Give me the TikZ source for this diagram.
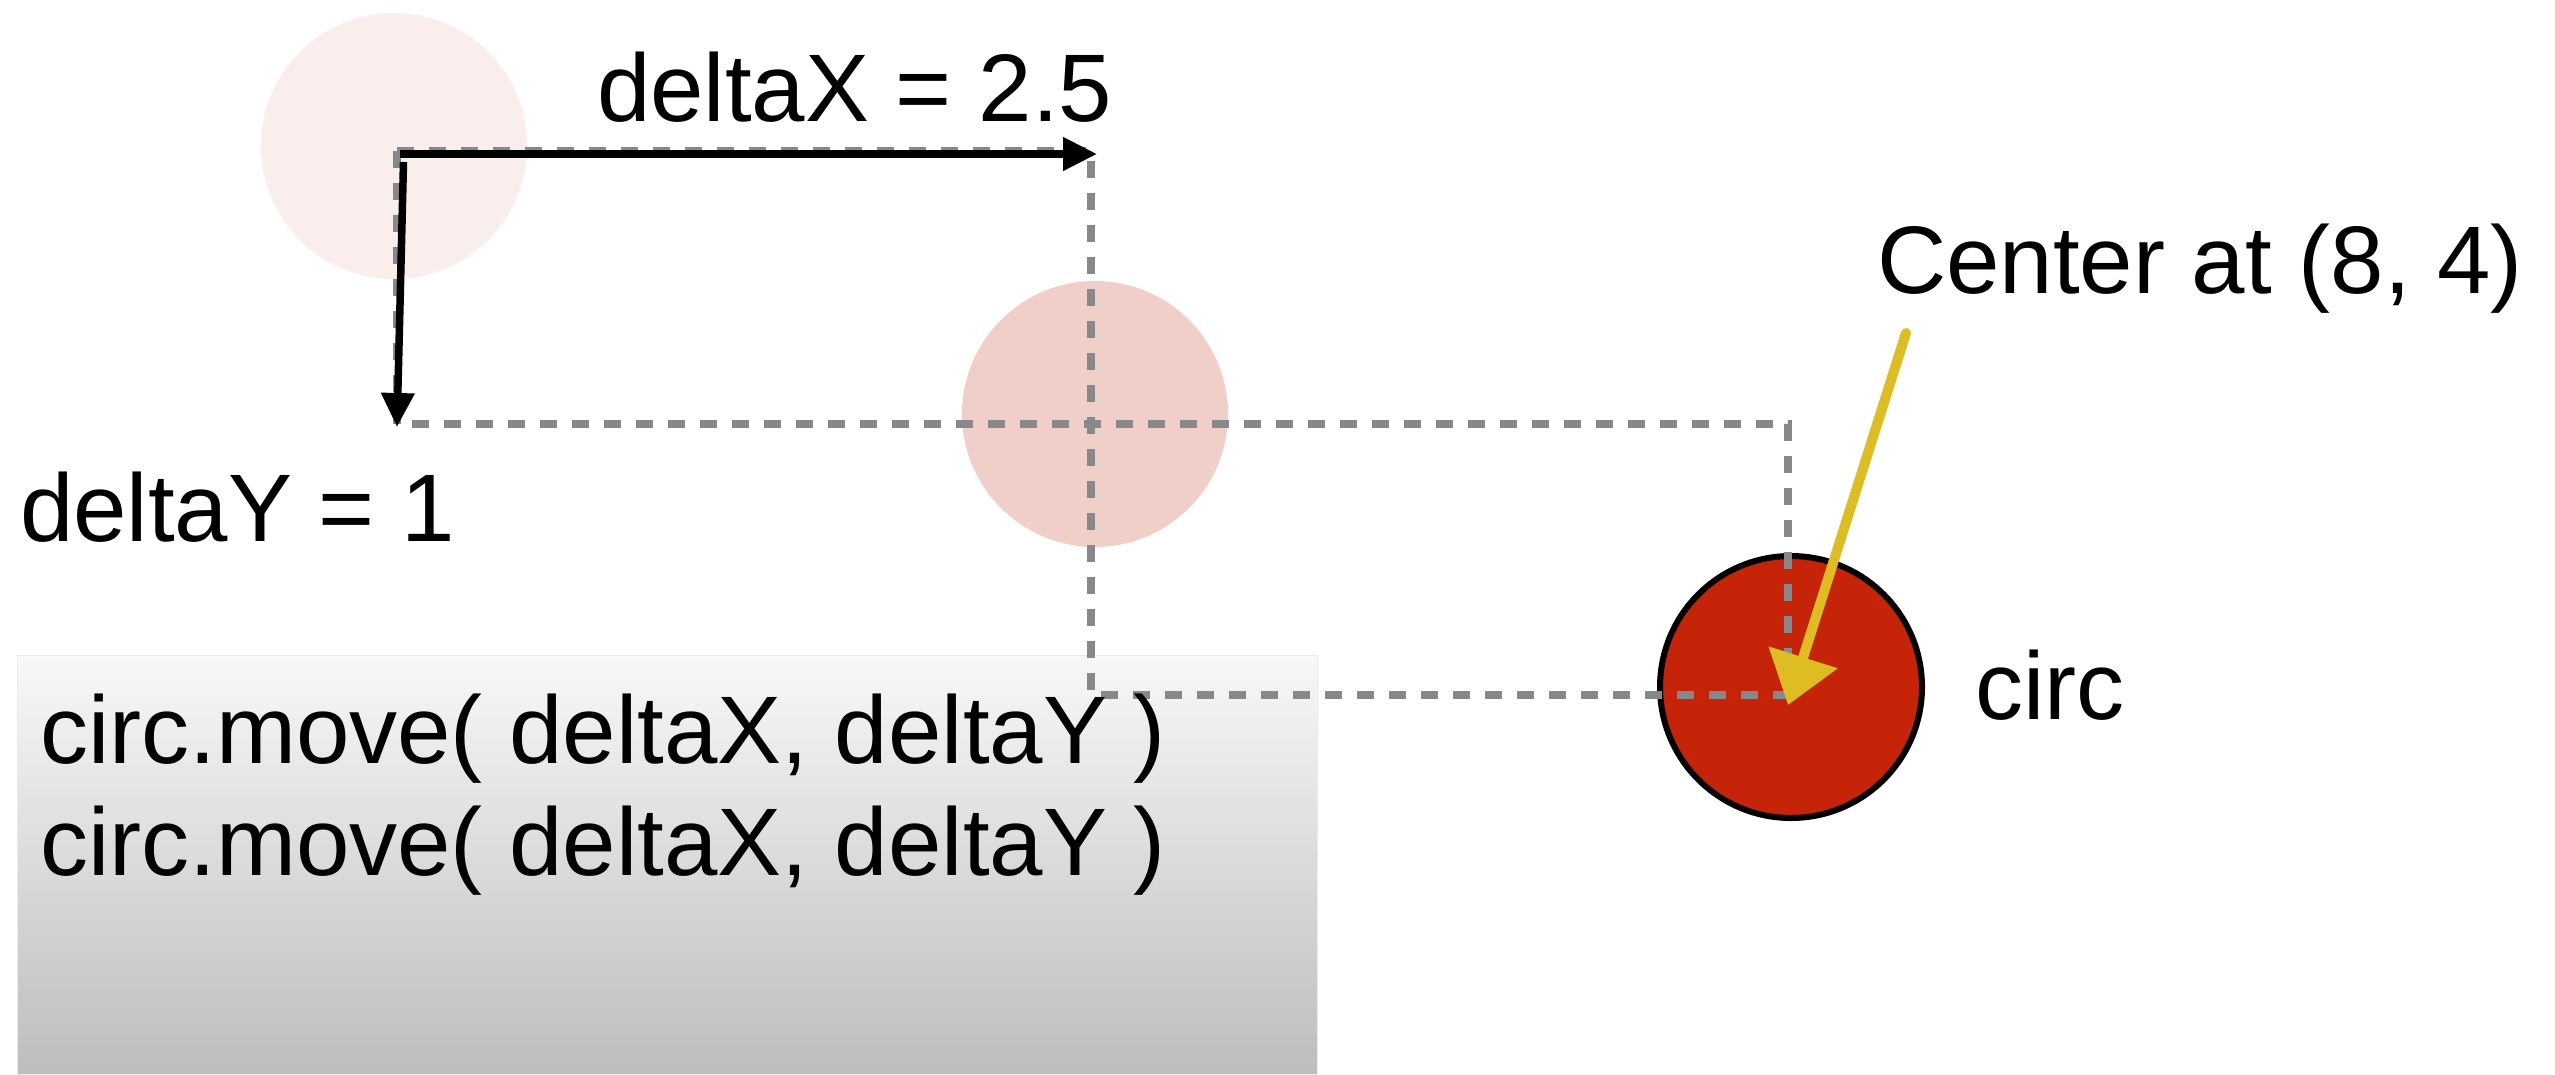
\documentclass[tikz,border=0pt]{standalone}
\usepackage{fontspec}
\setmainfont{Liberation Sans}
\usetikzlibrary{arrows.meta,decorations.pathmorphing}
\definecolor{faintc}{HTML}{F9EEEB}
\definecolor{midc}{HTML}{EFCFC8}
\definecolor{redc}{HTML}{C52408}
\definecolor{dashgrey}{HTML}{86888C}
\definecolor{yelc}{HTML}{DDBD22}
\definecolor{boxtop}{HTML}{F8F8F8}
\definecolor{boxbot}{HTML}{BDBDBD}
\begin{document}
\begin{tikzpicture}[x=1pt,y=-1pt,
  lbl/.style={font=\fontsize{96}{115}\selectfont, inner sep=0pt, anchor=base west},
  ghost/.style={circle, inner sep=0pt, minimum size=266pt},
  dashline/.style={dashgrey, line width=8pt, dash pattern=on 17pt off 15pt},
  blackarrow/.style={black, line width=7.5pt, -{Triangle[length=34pt,width=32pt]}},
  yelarrow/.style={yelc, line width=10pt, line cap=round, -{Triangle[length=50pt,width=70pt]}},
  yelrough/.style={yelc, line width=3pt, decorate, decoration={random steps, segment length=5pt, amplitude=2pt}}
]
\useasboundingbox (0,0) rectangle (2555,1074);
\fill[white] (0,0) rectangle (2555,1074);

% ghost circles
\node[ghost, fill=faintc] (c1) at (394,146) {};
\node[ghost, fill=midc] (c2) at (1095,414) {};

% code box
\node[rectangle, inner sep=0pt, anchor=north west, minimum width=1300pt, minimum height=419pt,
      top color=boxtop, bottom color=boxbot, draw=black!8, line width=1pt] (codebox) at (17,655) {};

% red circle
\node[circle, inner sep=0pt, minimum size=262pt, fill=redc, draw=black, line width=6pt] (red) at (1791,687) {};

% dashed guides
\coordinate (o) at (397,151);
\coordinate (dx) at (1091,151);
\coordinate (dy) at (397,424);
\coordinate (p) at (1788,424);
\coordinate (q) at (1091,695);
\coordinate (r) at (1788,695);
\draw[dashline] (o) -- (dy) -- (p) -- (r);
\draw[dashline] (o) -- (dx) -- (q) -- (r);

% black arrows
\coordinate (ostart) at (400,154);
\coordinate (xtip) at (1097,154);
\coordinate (ytop) at (403.5,162);
\coordinate (ybot) at (397,427);
\draw[blackarrow] (ostart) -- (xtip);
\draw[blackarrow] (ytop) -- (ybot);

% yellow arrow
\coordinate (ytail) at (1906,333);
\coordinate (ytipc) at (1788,705);
\coordinate (ymid) at (1802,660);
\draw[yelarrow] (ytail) -- (ytipc);
\draw[yelrough] (ytail) -- (ymid);

% labels
\node[lbl] (tdx) at (597,121) {deltaX = 2.5};
\node[lbl] (tdy) at (20,541) {deltaY = 1};
\node[lbl] (tcenter) at (1877,293) {Center at (8, 4)};
\node[lbl] (tcirc) at (1975,719) {circ};
\node[lbl] (line1) at (40,763) {circ.move( deltaX, deltaY )};
\node[lbl] (line2) at (40,875) {circ.move( deltaX, deltaY )};
\end{tikzpicture}
\end{document}
